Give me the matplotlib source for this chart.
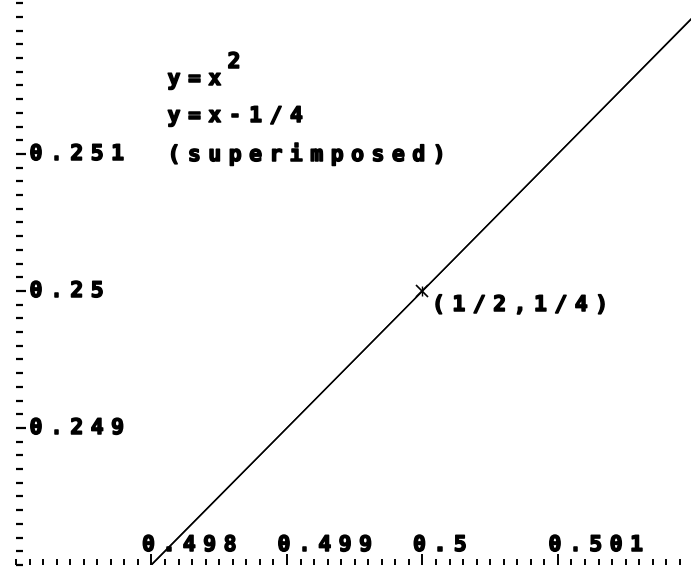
import matplotlib.pyplot as plt
import matplotlib.patheffects as pe
import numpy as np

# window and ticks
x_window = [0.497, 0.501982]
y_window = [0.248, 0.252124]
x_major = [0.498, 0.499, 0.5, 0.501]
x_tick_labels = ["0.498", "0.499", "0.5", "0.501"]
y_major = [0.249, 0.25, 0.251]
y_tick_labels = ["0.249", "0.25", "0.251"]
tick_step = 0.0001
point = (0.5, 0.25)
point_label = "(1/2,1/4)"
legend_lines = ["y=x", "y=x-1/4", "(superimposed)"]

PITCH = 20.4  # px per character, fixed-width screen font
FONT = dict(family="DejaVu Sans Mono", weight="bold", fontsize=15.5, color="black",
            path_effects=[pe.withStroke(linewidth=1.1, foreground="black")])


def mono_text(ax, xy, s, coords, dx=0.0, dy=0.0, **kw):
    # lay out a string one character per fixed cell, like the screen font
    style = dict(FONT)
    style.update(kw)
    for i, ch in enumerate(s):
        ax.annotate(ch, xy=xy, xycoords=coords,
                    xytext=(dx + i * PITCH + 6, dy), textcoords="offset pixels",
                    ha="center", va="baseline", annotation_clip=False, **style)


fig = plt.figure(figsize=(6.91, 5.67), dpi=100)
ax = fig.add_axes([16 / 691, 2 / 567, 675 / 691, 565 / 567])
ax.set_xlim(x_window)
ax.set_ylim(y_window)
for side in ax.spines.values():
    side.set_visible(False)

xs = np.linspace(x_window[0], x_window[1], 600)
ax.plot(xs, xs ** 2, color="black", lw=1.0)
ax.plot(xs, xs - 0.25, color="black", lw=1.0)
ax.plot(*point, marker="x", ms=8, mew=1.2, color="black")
ax.plot(*point, marker="|", ms=7, mew=1.0, color="black")

ax.set_xticks(x_major)
ax.set_yticks(y_major)
ax.set_xticks(np.arange(x_window[0], x_window[1], tick_step), minor=True)
ax.set_yticks(np.arange(y_window[0], y_window[1], tick_step), minor=True)
ax.set_xticklabels([])
ax.set_yticklabels([])
ax.tick_params(axis="x", which="major", direction="in", length=8, width=1.4)
ax.tick_params(axis="x", which="minor", direction="in", length=4.3, width=1.4)
ax.tick_params(axis="y", which="major", direction="in", length=7.2, width=1.6)
ax.tick_params(axis="y", which="minor", direction="in", length=5, width=1.6)

for xv, lab in zip(x_major, x_tick_labels):
    mono_text(ax, (xv, y_window[0]), lab, "data", dx=-9, dy=14)
for yv, lab in zip(y_major, y_tick_labels):
    mono_text(ax, (x_window[0], yv), lab, "data", dx=14, dy=-6)

mono_text(ax, point, point_label, "data", dx=10, dy=-20)

# legend text block, figure pixels from bottom-left
mono_text(ax, (168, 567 - 85), legend_lines[0], "figure pixels")
mono_text(ax, (228, 567 - 68), "2", "figure pixels")
mono_text(ax, (168, 567 - 122), legend_lines[1], "figure pixels")
mono_text(ax, (168, 567 - 161), legend_lines[2], "figure pixels")

fig.savefig("out.png", dpi=100)
